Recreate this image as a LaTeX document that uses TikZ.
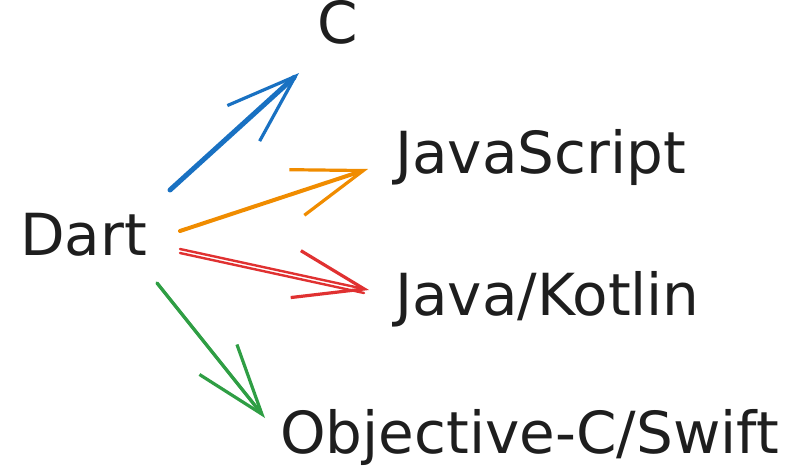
\documentclass[tikz,border=0pt]{standalone}
\usepackage{fontspec}
\setmainfont{DejaVu Sans}
\usetikzlibrary{arrows.meta}
\definecolor{ink}{HTML}{1E1E1E}
\definecolor{xblue}{HTML}{1971C2}
\definecolor{xorange}{HTML}{F08C00}
\definecolor{xred}{HTML}{E03131}
\definecolor{xgreen}{HTML}{2F9E44}
\begin{document}
\begin{tikzpicture}[x=1pt,y=-1pt,
		lang/.style={anchor=base west, inner sep=0pt, text=ink, font=\fontsize{58}{60}\selectfont},
		link/.style={line width=4pt, line cap=round, line join=round,
			-{Straight Barb[length=70pt,width=48pt,line width=3.2pt]}},
		twin/.style={line width=2.4pt, line cap=round, xred},
	]
	\useasboundingbox (0,0) rectangle (807,471);
	% Draw diagram elements
	\node (dart) [lang] at (20,255) {Dart};
	\node (c) [lang] at (317,43) {C};
	\node (js) [lang] at (395,173) {JavaScript};
	\node (jk) [lang] at (395,315) {Java/Kotlin};
	\node (objc) [lang] at (280,453) {Objective-C/Swift};
	% Draw arrows between elements
	\draw[link,xblue,line width=5pt] ([shift={(150,-65)}]dart.base west) -- ([shift={(-18,30)}]c.base west);
	\draw[link,xorange] ([shift={(160,-24)}]dart.base west) -- ([shift={(-27,-4)}]js.base west);
	\draw[link,xred,line width=2.4pt] ([shift={(160,-6)}]dart.base west) -- ([shift={(-26,-25)}]jk.base west);
	\draw[twin] ([shift={(160,-2)}]dart.base west) -- ([shift={(-31,-22)}]jk.base west);
	\draw[link,xgreen,line width=3.4pt] ([shift={(137,28)}]dart.base west) -- ([shift={(-15,-35)}]objc.base west);
\end{tikzpicture}
\end{document}
